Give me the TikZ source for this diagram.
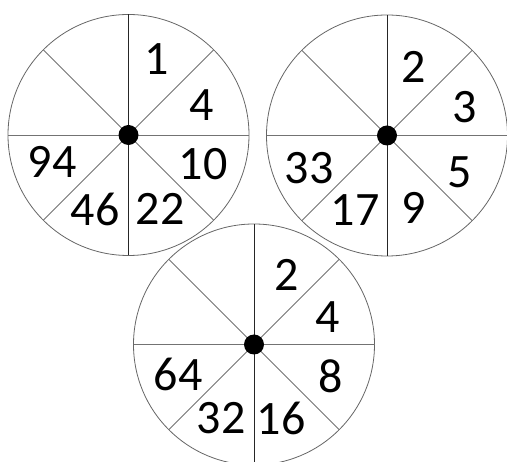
\documentclass[tikz,border=0pt]{standalone}
\usepackage{fontspec}
\setmainfont{Carlito}
\begin{document}
\begin{tikzpicture}[x=1pt,y=1pt,
  rim/.style={draw=black!60,line width=0.8pt},
  spoke/.style={draw=black!55,line width=0.8pt},
  vspoke/.style={draw=black!85,line width=0.8pt},
  hub/.style={fill=black},
  num/.style={inner sep=0pt,font=\fontsize{48}{48}\selectfont}]
\useasboundingbox (0,0) rectangle (507,-462);
\newcommand\wheel[2]{%
  \coordinate (#1) at #2;
  \draw[rim] (#1) circle (120.5);
  \foreach \a in {45,135,225,315} \draw[spoke] (#1) -- ++(\a:120.5);
  \draw[spoke] (#1) ++(-120.5,0) -- ++(241,0);
  \draw[vspoke] (#1) ++(0,-120.5) -- ++(0,241);
  \fill[hub] (#1) circle (10);
}
\wheel{A}{(128.5,-135)}
\wheel{B}{(387,-135.5)}
\wheel{C}{(254,-344.5)}
\node[num] (a1) at (157,-59) {1};
\node[num] (a2) at (202,-105) {4};
\node[num] (a3) at (203,-164) {10};
\node[num] (a4) at (160,-209) {22};
\node[num] (a5) at (95,-209) {46};
\node[num] (a6) at (52,-162) {94};
\node[num] (b1) at (414,-67) {2};
\node[num] (b2) at (465,-107) {3};
\node[num] (b3) at (460,-172) {5};
\node[num] (b4) at (414,-208) {9};
\node[num] (b5) at (355,-210) {17};
\node[num] (b6) at (309,-168) {33};
\node[num] (c1) at (287,-275) {2};
\node[num] (c2) at (328,-317) {4};
\node[num] (c3) at (331,-376) {8};
\node[num] (c4) at (281,-418) {16};
\node[num] (c5) at (221,-418) {32};
\node[num] (c6) at (178,-374) {64};
\end{tikzpicture}
\end{document}
